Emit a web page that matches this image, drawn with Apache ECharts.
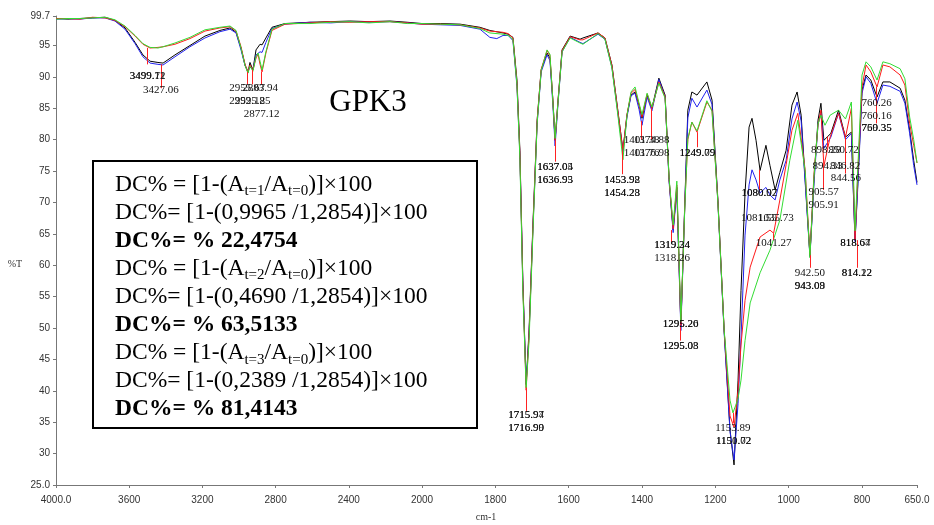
<!DOCTYPE html>
<html>
<head>
<meta charset="utf-8">
<script src="https://cdn.jsdelivr.net/npm/echarts@6/dist/echarts.min.js"></script>
<style>
html, body { margin: 0; padding: 0; background: #fff; }
#chart { width: 934px; height: 525px; }
</style>
</head>
<body>
<div id="chart"></div>
<script>
// FTIR spectra of GPK3, [wavenumber cm-1, %T], listed from 4000 down to 650
const spectrumBlack = [
  [4000,99.3],[3935,99.2],[3869,99.3],[3800,99.4],[3732,99.5],[3678,99.0],[3623,97.8],[3568,95.5],
  [3525,93.5],[3486,92.5],[3443,92.3],[3415,92.2],[3350,93.5],[3268,95.0],[3186,96.5],[3104,97.4],
  [3049,97.8],[3016,97.1],[2989,94.6],[2967,91.9],[2951,90.7],[2940,92.3],[2924,91.1],[2907,94.3],
  [2885,95.2],[2874,95.1],[2853,96.2],[2820,97.9],[2749,98.5],[2612,98.7],[2500,98.8],[2394,98.9],
  [2290,98.8],[2175,98.9],[2080,98.7],[2000,98.5],
  [1950,98.5],[1896,98.4],[1842,97.9],[1815,97.4],[1779,97.0],[1765,96.8],[1752,96.3],[1741,89.5],
  [1733,78.3],[1725,57.6],[1716,41.0],[1708,49.7],[1697,67.2],[1686,83.1],[1675,91.1],[1659,93.8],
  [1651,93.0],[1643,86.3],[1637,79.9],[1629,86.3],[1618,94.3],[1596,96.5],[1569,96.0],[1561,96.2],
  [1520,97.0],[1501,96.2],[1482,91.9],[1466,84.7],[1452,78.3],[1441,83.9],[1430,87.1],[1419,87.6],
  [1408,85.5],[1400,83.4],[1386,87.1],[1373,85.0],[1354,89.8],[1337,87.1],[1326,73.6],[1315,65.6],
  [1305,72.4],[1294,50.2],[1283,70.4],[1275,84.7],[1264,87.6],[1250,87.1],[1223,89.2],[1209,86.3],
  [1193,70.4],[1176,49.7],[1160,33.8],[1149,28.2],[1138,41.7],[1130,56.0],[1119,71.5],[1108,82.0],
  [1100,83.4],[1089,79.9],[1078,75.1],[1062,79.1],[1051,75.9],[1037,72.0],[1024,74.8],[1007,78.3],
  [991,85.5],[977,87.6],[966,83.9],[955,73.6],[942,61.6],[931,73.6],[920,83.1],[912,85.8],
  [904,79.9],[885,81.0],[864,84.7],[845,80.4],[829,81.2],[819,64.0],[811,73.6],[800,87.9],
  [789,90.3],[776,89.5],[759,86.8],[743,89.2],[724,89.2],[696,88.2],[683,86.3],[670,81.5],
  [659,76.7],[650,73.2]
];

const spectrumBlue = [
  [4000,99.2],[3935,99.3],[3869,99.2],[3800,99.4],[3732,99.4],[3678,98.9],[3623,97.6],[3568,95.3],
  [3525,93.2],[3486,92.2],[3443,92.0],[3415,91.9],[3350,93.2],[3268,94.8],[3186,96.2],[3104,97.2],
  [3049,97.6],[3016,97.0],[2989,94.3],[2967,91.8],[2951,90.9],[2940,91.6],[2924,91.1],[2907,93.5],
  [2885,94.0],[2874,93.9],[2853,95.5],[2820,97.7],[2749,98.4],[2612,98.7],[2500,98.6],[2394,98.8],
  [2290,98.7],[2175,98.8],[2080,98.6],[2000,98.4],
  [1950,98.3],[1896,98.2],[1842,97.6],[1815,96.3],[1796,96.1],[1779,96.6],[1765,96.6],[1752,95.8],
  [1741,88.5],[1733,77.5],[1725,57.0],[1716,41.2],[1708,49.0],[1697,66.5],[1686,82.5],[1675,90.8],
  [1659,93.5],[1651,92.6],[1643,85.5],[1637,79.0],[1629,85.8],[1618,94.0],[1596,96.3],[1569,95.5],
  [1561,95.3],[1520,96.8],[1501,96.0],[1482,91.5],[1466,84.3],[1452,78.0],[1441,83.6],[1430,87.0],
  [1419,87.4],[1408,84.8],[1400,82.3],[1386,86.8],[1373,84.6],[1354,89.6],[1337,86.8],[1326,73.2],
  [1315,65.2],[1305,72.0],[1294,49.6],[1283,70.0],[1275,83.5],[1264,86.6],[1250,85.2],[1223,87.9],
  [1209,85.6],[1193,70.0],[1176,49.3],[1160,33.5],[1149,29.0],[1138,38.0],[1130,48.4],[1119,64.8],
  [1108,72.8],[1100,75.2],[1089,73.6],[1078,71.5],[1062,72.4],[1051,71.2],[1037,70.4],[1024,73.6],
  [1007,76.7],[991,83.3],[977,86.0],[966,83.0],[955,73.2],[942,61.4],[931,73.0],[920,82.5],
  [912,84.2],[904,78.6],[885,80.4],[864,84.2],[845,80.0],[829,81.0],[819,63.8],[811,73.0],
  [800,87.4],[789,90.0],[776,89.0],[759,85.8],[743,88.7],[724,88.5],[696,87.7],[683,85.8],
  [670,81.0],[659,75.9],[650,72.8]
];

const spectrumRed = [
  [4000,99.3],[3935,99.3],[3869,99.2],[3800,99.5],[3732,99.4],[3678,99.0],[3623,98.0],[3568,96.5],
  [3525,95.2],[3486,94.6],[3443,94.7],[3415,94.8],[3350,95.2],[3268,96.1],[3186,97.3],[3104,97.8],
  [3049,98.0],[3016,97.3],[2989,94.8],[2967,92.0],[2951,90.8],[2940,91.9],[2924,91.1],[2907,93.0],
  [2896,93.6],[2885,92.0],[2874,90.8],[2853,93.8],[2820,97.4],[2749,98.4],[2612,98.6],[2500,98.8],
  [2394,98.7],[2290,98.8],[2175,98.8],[2080,98.6],[2000,98.4],
  [1950,98.4],[1896,98.3],[1842,97.8],[1815,97.3],[1779,97.1],[1765,96.9],[1752,96.2],[1741,89.0],
  [1733,77.8],[1725,57.0],[1716,40.1],[1708,49.0],[1697,66.8],[1686,83.0],[1675,91.2],[1659,94.2],
  [1651,93.4],[1643,86.2],[1637,79.9],[1629,86.2],[1618,94.2],[1596,96.4],[1569,95.9],[1561,95.9],
  [1520,97.0],[1501,96.2],[1482,91.8],[1466,84.6],[1452,78.3],[1441,84.0],[1430,87.4],[1419,88.0],
  [1408,85.6],[1400,83.6],[1386,87.3],[1373,85.0],[1354,89.2],[1337,86.8],[1326,73.6],[1315,65.8],
  [1305,72.8],[1294,50.4],[1283,70.0],[1275,80.0],[1264,82.8],[1250,81.2],[1223,86.0],[1209,84.7],
  [1193,70.2],[1176,49.7],[1160,36.0],[1149,34.2],[1138,40.1],[1130,47.3],[1119,54.4],[1105,59.7],
  [1078,64.5],[1051,65.6],[1041,65.1],[1024,70.4],[1007,76.0],[991,81.5],[975,84.2],[955,75.2],
  [942,61.6],[931,74.5],[920,82.3],[912,84.7],[904,75.8],[887,80.4],[864,84.2],[845,80.4],
  [829,85.0],[819,64.0],[811,75.2],[800,88.4],[789,91.9],[776,90.8],[759,88.4],[743,91.9],
  [724,91.6],[696,90.3],[683,88.7],[670,82.6],[659,79.1],[650,76.3]
];

const spectrumGreen = [
  [4000,99.2],[3935,99.3],[3869,99.3],[3800,99.4],[3732,99.5],[3678,99.1],[3623,98.1],[3568,96.6],
  [3525,95.3],[3486,94.7],[3443,94.6],[3415,94.8],[3350,95.4],[3268,96.3],[3186,97.5],[3104,97.9],
  [3049,98.1],[3016,97.4],[2989,94.6],[2967,91.8],[2951,90.6],[2940,91.7],[2924,90.9],[2907,93.2],
  [2896,93.8],[2885,92.5],[2874,91.1],[2853,94.0],[2820,97.6],[2749,98.5],[2612,98.5],[2500,98.7],
  [2394,98.8],[2290,98.6],[2175,98.8],[2080,98.5],[2000,98.5],
  [1950,98.4],[1896,98.3],[1842,97.7],[1815,97.0],[1779,96.8],[1765,96.6],[1752,96.0],[1741,88.8],
  [1733,77.0],[1725,56.0],[1716,40.5],[1708,48.0],[1697,66.0],[1686,82.6],[1675,91.0],[1659,94.3],
  [1651,93.6],[1643,86.0],[1637,80.2],[1629,86.0],[1618,94.0],[1596,96.2],[1569,95.4],[1561,95.2],
  [1520,96.9],[1501,96.0],[1482,91.4],[1466,84.0],[1452,76.8],[1441,83.8],[1430,87.6],[1419,88.4],
  [1408,85.8],[1400,84.0],[1386,87.4],[1373,85.2],[1354,89.0],[1337,86.6],[1326,73.8],[1315,66.4],
  [1305,73.4],[1294,51.0],[1283,69.6],[1275,80.2],[1264,82.8],[1250,81.4],[1223,86.2],[1209,84.5],
  [1193,70.0],[1176,49.7],[1160,38.5],[1152,36.5],[1145,37.6],[1138,38.8],[1130,41.7],[1119,48.0],
  [1105,54.0],[1078,58.8],[1051,62.4],[1024,67.2],[997,76.7],[975,83.1],[955,75.0],[942,61.2],
  [931,74.0],[920,82.5],[912,83.9],[901,82.3],[887,83.9],[864,84.7],[845,83.3],[829,86.0],
  [819,65.5],[811,76.0],[800,90.3],[789,92.4],[776,91.6],[759,89.5],[743,92.4],[724,92.1],
  [696,91.3],[683,89.7],[670,83.6],[659,80.0],[650,76.3]
];

// Peak-pick markers: [wavenumber, %T at curve, %T at label]
const peakMarks = [
  [3499,94.6,92.0],[3427,92.0,88.2],[2955,90.8,88.8],[2925,91.1,88.8],[2877,90.8,88.8],
  [1716,40.5,36.8],[1637,79.9,76.5],[1454,78.3,74.5],[1401,83.0,80.0],[1374,85.0,80.0],
  [1319,65.6,63.6],[1295,50.2,48.0],[1249,81.2,78.8],[1150,36.5,34.9],[1080,75.2,72.0],
  [1041,65.1,64.0],[942,61.6,59.6],[905,75.8,72.0],[896,80.5,78.8],[846,80.4,74.6],
  [814,64.0,59.6],[760,88.4,82.6]
];

// Peak labels: [wavenumber, %T, text]
const peakLabels = [
  [3499,90.1,'3499.71'],[3499,90.1,'3499.12'],[3427,87.9,'3427.06'],
  [2955,88.2,'2955.67'],[2884,88.2,'2883.94'],[2955,86.1,'2959.12'],[2925,86.1,'2925.85'],
  [2877,84.1,'2877.12'],
  [1716,36.1,'1715.94'],[1716,36.1,'1715.97'],[1716,34.1,'1716.99'],[1716,34.1,'1716.90'],
  [1637,75.6,'1637.04'],[1637,75.6,'1637.05'],[1637,73.6,'1636.95'],[1637,73.6,'1636.93'],
  [1454,73.6,'1453.92'],[1454,73.6,'1453.98'],[1454,71.5,'1454.28'],[1454,71.5,'1454.23'],
  [1401,79.9,'1401.38'],[1374,79.9,'1374.88'],[1401,77.9,'1401.76'],[1374,77.9,'1376.98'],
  [1249,77.9,'1249.09'],[1249,77.9,'1249.79'],
  [1318,63.2,'1319.24'],[1318,63.2,'1319.34'],[1318,61.1,'1318.26'],
  [1295,50.6,'1295.20'],[1295,50.6,'1295.26'],[1295,47.1,'1295.03'],[1295,47.1,'1295.08'],
  [1152,34.1,'1153.89'],[1150,32.0,'1150.02'],[1150,32.0,'1151.72'],
  [1080,71.5,'1080.07'],[1080,71.5,'1080.92'],[1081,67.5,'1081.55'],[1035,67.5,'1035.73'],
  [1041,63.5,'1041.27'],
  [942,58.8,'942.50'],[942,56.7,'943.09'],[942,56.7,'943.08'],
  [905,71.6,'905.57'],[905,69.6,'905.91'],
  [898,78.3,'898.28'],[850,78.3,'850.72'],[894,75.8,'894.33'],[846,75.8,'846.82'],[844,73.9,'844.56'],
  [818,63.5,'818.64'],[818,63.5,'818.67'],[814,58.8,'814.22'],[814,58.8,'814.12'],
  [760,85.8,'760.26'],[760,83.8,'760.16'],[760,81.9,'759.35'],[760,81.9,'760.35']
];

// Axis ticks: the wavenumber scale doubles below 2000 cm-1
const yTicks = [25,30,35,40,45,50,55,60,65,70,75,80,85,90,95,99.7];
const xTicksHigh = [4000,3600,3200,2800,2400];
const xTicksLow = [2000,1800,1600,1400,1200,1000,800,650];

// Degree-of-conversion notes
const noteTitle = 'GPK3';
const noteLines = [
  { text: 'DC% = [1-(A{s|t=1}/A{s|t=0})]×100', bold: false },
  { text: 'DC%= [1-(0,9965 /1,2854)]×100', bold: false },
  { text: 'DC%= % 22,4754', bold: true },
  { text: 'DC% = [1-(A{s|t=2}/A{s|t=0})]×100', bold: false },
  { text: 'DC%= [1-(0,4690 /1,2854)]×100', bold: false },
  { text: 'DC%= % 63,5133', bold: true },
  { text: 'DC% = [1-(A{s|t=3}/A{s|t=0})]×100', bold: false },
  { text: 'DC%= [1-(0,2389 /1,2854)]×100', bold: false },
  { text: 'DC%= % 81,4143', bold: true }
];

const chart = echarts.init(document.getElementById('chart'), null, { renderer: 'canvas' });

const high = arr => arr.filter(p => p[0] >= 2000);
const low = arr => arr.filter(p => p[0] <= 2000);

const seriesDefs = [
  { name: 'black', data: spectrumBlack, color: '#000000' },
  { name: 'blue', data: spectrumBlue, color: '#2222ee' },
  { name: 'red', data: spectrumRed, color: '#ff1a1a' },
  { name: 'green', data: spectrumGreen, color: '#33dd33' }
];

const axisFont = { fontFamily: 'Liberation Sans', fontSize: 10, color: '#333' };
const axisLineStyle = { color: '#777', width: 1 };

function xAxisFor(gridIndex, min, max, ticks) {
  return {
    type: 'value', gridIndex, min, max, inverse: true,
    axisLine: { show: true, onZero: false, lineStyle: axisLineStyle },
    axisTick: { show: true, length: 3, customValues: ticks, lineStyle: axisLineStyle },
    axisLabel: Object.assign({
      margin: 10, customValues: ticks,
      formatter: v => (v === 4000 || v === 650) ? v.toFixed(1) : String(v)
    }, axisFont),
    splitLine: { show: false }
  };
}

const series = [];
seriesDefs.forEach(s => {
  series.push({
    type: 'line', name: s.name + '-high', xAxisIndex: 0, yAxisIndex: 0,
    data: high(s.data), showSymbol: false, symbol: 'none',
    lineStyle: { color: s.color, width: 1 }, itemStyle: { color: s.color }
  });
  series.push({
    type: 'line', name: s.name + '-low', xAxisIndex: 1, yAxisIndex: 1,
    data: low(s.data), showSymbol: false, symbol: 'none',
    lineStyle: { color: s.color, width: 1 }, itemStyle: { color: s.color }
  });
});

function labelSeries(axisIndex, labels, marks) {
  return {
    type: 'scatter', xAxisIndex: axisIndex, yAxisIndex: axisIndex,
    data: labels, symbolSize: 1, silent: true,
    itemStyle: { color: 'rgba(0,0,0,0)' },
    label: {
      show: true, position: 'inside', formatter: p => p.data[2],
      fontFamily: 'Liberation Serif', fontSize: 11, color: '#111',
      textBorderWidth: 0, textBorderColor: 'transparent', opacity: 1
    },
    markLine: {
      silent: true, symbol: ['none', 'none'], animation: false,
      label: { show: false },
      lineStyle: { color: '#ff2222', width: 1, type: 'solid' },
      data: marks.map(m => [{ coord: [m[0], m[1]] }, { coord: [m[0], m[2]] }])
    },
    z: 5
  };
}

series.push(labelSeries(0, peakLabels.filter(l => l[0] >= 2000), peakMarks.filter(m => m[0] >= 2000)));
series.push(labelSeries(1, peakLabels.filter(l => l[0] < 2000), peakMarks.filter(m => m[0] < 2000)));

const graphics = [
  {
    type: 'rect', shape: { x: 93, y: 161, width: 384, height: 267 },
    style: { fill: '#fff', stroke: '#000', lineWidth: 2 }, z: 10
  },
  {
    type: 'text', x: 368, y: 103, z: 10,
    style: {
      text: noteTitle, align: 'center', verticalAlign: 'middle',
      fontFamily: 'Liberation Serif', fontSize: 31, fill: '#000'
    }
  },
  {
    type: 'text', x: 15, y: 264, z: 10,
    style: { text: '%T', align: 'center', verticalAlign: 'middle',
      fontFamily: 'Liberation Serif', fontSize: 10, fill: '#333' }
  },
  {
    type: 'text', x: 486, y: 517, z: 10,
    style: { text: 'cm-1', align: 'center', verticalAlign: 'middle',
      fontFamily: 'Liberation Serif', fontSize: 10, fill: '#333' }
  }
];

noteLines.forEach((line, i) => {
  graphics.push({
    type: 'text', x: 115, y: 184.5 + i * 28.1, z: 11,
    style: {
      text: line.text, align: 'left', verticalAlign: 'middle',
      fontFamily: 'Liberation Serif', fontSize: 23.5,
      fontWeight: line.bold ? 'bold' : 'normal',
      lineHeight: 28, fill: '#000',
      rich: {
        s: { fontFamily: 'Liberation Serif', fontSize: 15, verticalAlign: 'bottom', fill: '#000' }
      }
    }
  });
});

chart.setOption({
  animation: false,
  backgroundColor: '#fff',
  grid: [
    { left: 56, top: 16, width: 366, height: 469, outerBoundsMode: 'none' },
    { left: 422, top: 16, width: 495, height: 469, outerBoundsMode: 'none' }
  ],
  xAxis: [
    xAxisFor(0, 2000, 4000, xTicksHigh),
    xAxisFor(1, 650, 2000, xTicksLow)
  ],
  yAxis: [
    {
      type: 'value', gridIndex: 0, min: 25, max: 99.7,
      axisLine: { show: true, lineStyle: axisLineStyle },
      axisTick: { show: true, length: 3, customValues: yTicks, lineStyle: axisLineStyle },
      axisLabel: Object.assign({
        margin: 6, customValues: yTicks,
        formatter: v => v === 25 ? '25.0' : (v === 99.7 ? '99.7' : String(v))
      }, axisFont),
      splitLine: { show: false }
    },
    {
      type: 'value', gridIndex: 1, min: 25, max: 99.7, show: false,
      splitLine: { show: false }
    }
  ],
  series,
  graphic: graphics
});
</script>
</body>
</html>
